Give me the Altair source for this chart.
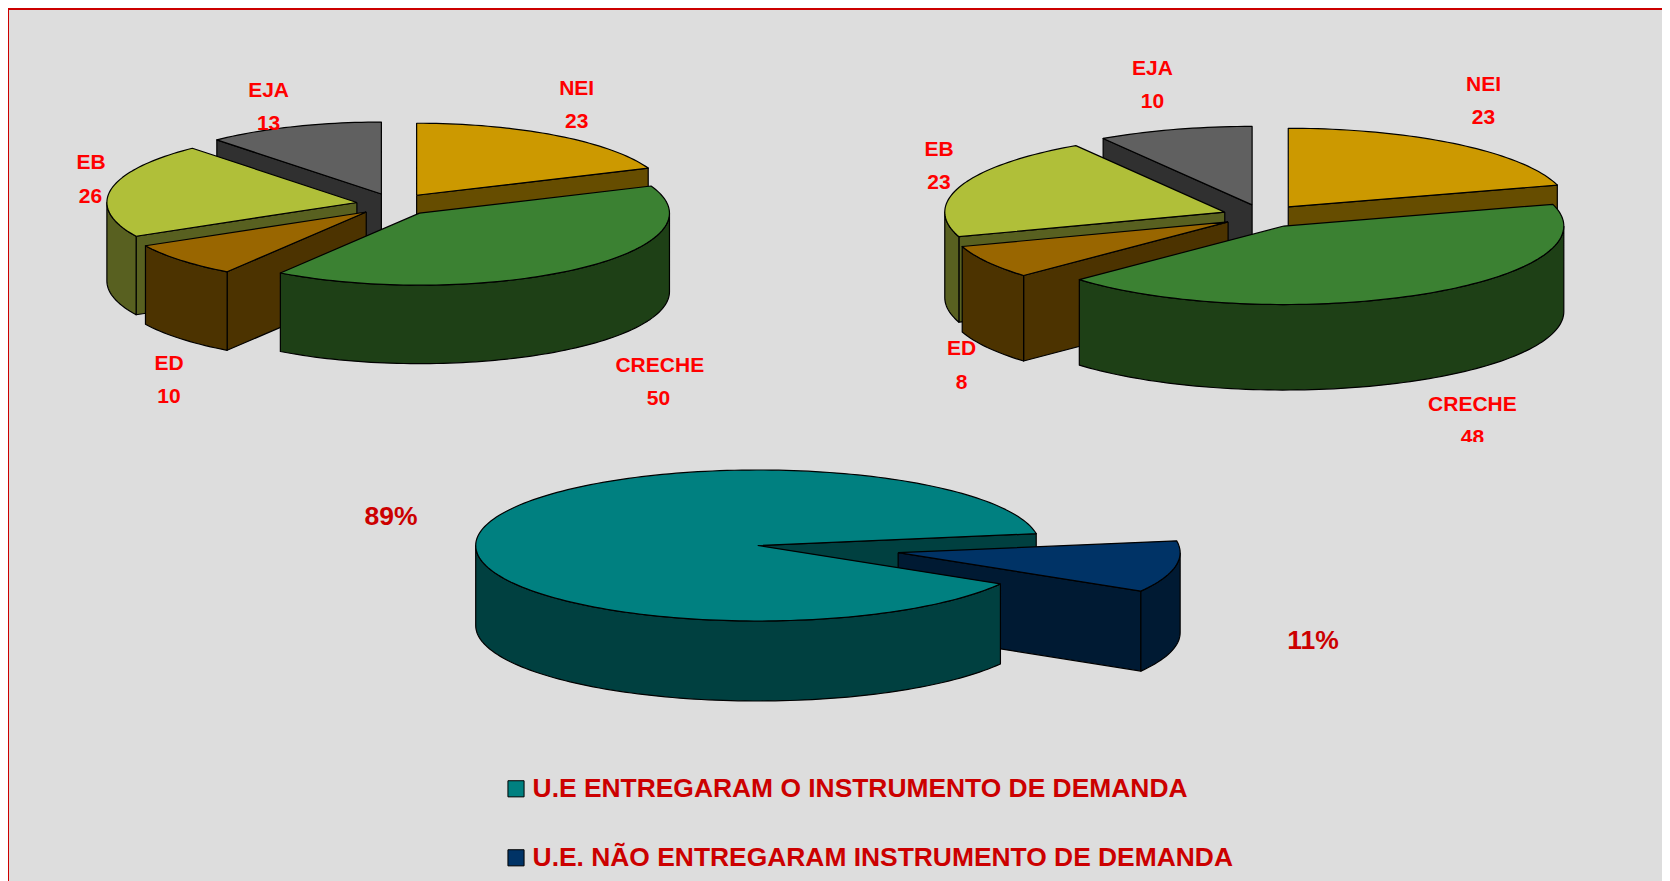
import math
import altair as alt
import pandas as pd

# ---------- values ----------
CATEGORIES = ["NEI", "CRECHE", "ED", "EB", "EJA"]
VALUES_LEFT = [23, 50, 10, 26, 13]
VALUES_RIGHT = [23, 48, 8, 23, 10]
DELIVERY_LABELS = ["U.E. NÃO ENTREGARAM INSTRUMENTO DE DEMANDA", "U.E ENTREGARAM O INSTRUMENTO DE DEMANDA"]
DELIVERY_VALUES = [11, 89]
DELIVERY_TEXT = ["11%", "89%"]

# ---------- styles ----------
BG = "#DDDDDD"
BORDER = "#CC0000"
TOPS = ["#CC9900", "#3B8132", "#996600", "#B0BF39", "#606060"]
WALLS = ["#664D00", "#1E4016", "#4C3300", "#586020", "#303030"]
DELIVERY_TOPS = ["#003366", "#008080"]
DELIVERY_WALLS = ["#001A33", "#004040"]

rows = []
poly_id = [0]
seq = [0]


def add_poly(points, fill):
    closed = points + [points[0]]
    for (x, y) in closed:
        rows.append({"pid": poly_id[0], "seq": seq[0], "x": x, "y": y, "fill": fill})
        seq[0] += 1
    poly_id[0] += 1


def pie_parts(values, start, cx, cy, rx, ry, depth, explode, tops, walls, perspective=None):
    # perspective: small angle correction (degrees) of the drawn end of each slice
    perspective = perspective or [0] * len(values)
    total = sum(values)
    parts = []
    running = start
    prev_end = start
    for i, v in enumerate(values):
        running += v / total * 360
        a, b = prev_end, running + perspective[i]
        prev_end = b
        m = math.radians((a + b) / 2)
        ax = cx + explode[i] * rx * math.sin(m)
        ay = cy - explode[i] * ry * math.cos(m)

        def rim(t, drop=0.0, ax=ax, ay=ay):
            r = math.radians(t)
            return (ax + rx * math.sin(r), ay - ry * math.cos(r) + drop)

        def arc(t0, t1, drop=0.0):
            n = max(2, int(abs(t1 - t0) / 1.5))
            return [rim(t0 + (t1 - t0) * j / n, drop) for j in range(n + 1)]

        radial = []
        # only the cut faces that turn toward the viewer are drawn
        if math.sin(math.radians(a)) < -1e-9:
            p = rim(a)
            radial.append(([(ax, ay), p, (p[0], p[1] + depth), (ax, ay + depth)], walls[i]))
        if math.sin(math.radians(b)) > 1e-9:
            p = rim(b)
            radial.append(([(ax, ay), p, (p[0], p[1] + depth), (ax, ay + depth)], walls[i]))
        outer = []
        for lo, hi in ((90, 270), (450, 630)):
            t0, t1 = max(a, lo), min(b, hi)
            if t1 > t0:
                outer.append((arc(t0, t1) + arc(t1, t0, depth), walls[i]))
        top = ([(ax, ay)] + arc(a, b), tops[i])
        parts.append({"radial": radial, "outer": outer, "top": top})
    return parts


def paint(part, what=("radial", "outer", "top")):
    if "radial" in what:
        for pts, c in part["radial"]:
            add_poly(pts, c)
    if "outer" in what:
        for pts, c in part["outer"]:
            add_poly(pts, c)
    if "top" in what:
        add_poly(*part["top"])


# left pie
p = pie_parts(VALUES_LEFT, 0, 395, 204.5, 250, 72, 78.5, [0.155] * 5, TOPS, WALLS, [0, -1.6, -2.9, -2.8, 0])
for i in (4, 0, 3, 2, 1):
    paint(p[i])
# right pie
p = pie_parts(VALUES_RIGHT, 0, 1263.5, 216, 280, 78.5, 85.5, [0.147] * 5, TOPS, WALLS, [0, -1.3, -2.2, 0, 0])
for i in (4, 0, 3, 2, 1):
    paint(p[i])
# lower pie
p = pie_parts(DELIVERY_VALUES, 81, 757.7, 545.5, 282, 75.5, 80, [0.507, 0.0], DELIVERY_TOPS, DELIVERY_WALLS)
paint(p[1], ("radial",))
paint(p[0])
paint(p[1], ("outer", "top"))

polys = pd.DataFrame(rows)

X_SCALE = alt.Scale(domain=[8, 1662], nice=False, zero=False)
X = alt.X("x:Q", axis=None, scale=X_SCALE)
Y = alt.Y("y:Q", axis=None, scale=alt.Scale(domain=[8, 881], nice=False, zero=False, reverse=True))

shapes = alt.Chart(polys).mark_line(stroke="black", strokeWidth=1.2, strokeJoin="round").encode(
    x=X, y=Y, detail="pid:N", order="seq:Q", fill=alt.Fill("fill:N", scale=None)
)

# ---------- pie labels ----------
lab_left = [(576.7, 89.2), (659.8, 365.5), (169, 364.2), (91, 162.8), (268.6, 90.8)]
val_left = [(576.7, 121.5), (658.4, 398.8), (169, 397.2), (90.5, 196.5), (268.6, 124.2)]
lab_right = [(1483.5, 84.8), (1472.4, 404.5), (961.6, 348.8), (939, 150.2), (1152.5, 68.5)]
val_right = [(1483.5, 118.2), (1472.4, 437.5), (961.6, 382.5), (939, 183.2), (1152.5, 102.2)]

t = []
for names, vals, lp, vp in ((CATEGORIES, VALUES_LEFT, lab_left, val_left), (CATEGORIES, VALUES_RIGHT, lab_right, val_right)):
    for n, v, a, b in zip(names, vals, lp, vp):
        t.append({"x": a[0], "y": a[1], "text": n})
        t.append({"x": b[0], "y": b[1], "text": str(v)})
pie_text = alt.Chart(pd.DataFrame(t)).mark_text(
    font="Liberation Sans", fontWeight="bold", fontSize=21, color="#FF0000", align="center", baseline="middle"
).encode(x=X, y=Y, text="text:N")

# mask that cuts the lower edge of the last label
mask = alt.Chart(pd.DataFrame([{"x": 1400, "x2": 1560, "y": 442, "y2": 462}])).mark_rect(color=BG).encode(
    x=X, x2="x2:Q", y=Y, y2="y2:Q"
)

pct = pd.DataFrame({"x": [1313, 391], "y": [641, 516.7], "text": DELIVERY_TEXT})
pct_text = alt.Chart(pct).mark_text(
    font="Liberation Sans", fontWeight="bold", fontSize=26.5, color=BORDER, align="center", baseline="middle"
).encode(x=X, y=Y, text="text:N")

# ---------- legend ----------
leg = pd.DataFrame({
    "x": [516, 516], "tx": [532.6, 532.6], "y": [857.8, 788.8],
    "label": DELIVERY_LABELS, "fill": DELIVERY_TOPS,
})
leg_sym = alt.Chart(leg).mark_square(size=260, stroke="black", strokeWidth=1, opacity=1).encode(
    x=X, y=Y, fill=alt.Fill("fill:N", scale=None)
)
leg_text = alt.Chart(leg).mark_text(
    font="Liberation Sans", fontWeight="bold", fontSize=26.4, color=BORDER, align="left", baseline="middle"
).encode(x=alt.X("tx:Q", axis=None, scale=X_SCALE), y=Y, text="label:N")

# ---------- frame ----------
frame = alt.Chart(pd.DataFrame([
    {"x": 8, "x2": 1662, "y": 8, "y2": 10},
    {"x": 8, "x2": 9, "y": 8, "y2": 881},
])).mark_rect(color=BORDER).encode(x=X, x2="x2:Q", y=Y, y2="y2:Q")

chart = alt.layer(shapes, pie_text, mask, pct_text, leg_sym, leg_text, frame).properties(
    width=1654, height=873, background=BG, padding=0, autosize=alt.AutoSizeParams(type="none")
).configure_view(stroke=None)

chart.save("out.html", embed_options={"renderer": "svg", "actions": False})
